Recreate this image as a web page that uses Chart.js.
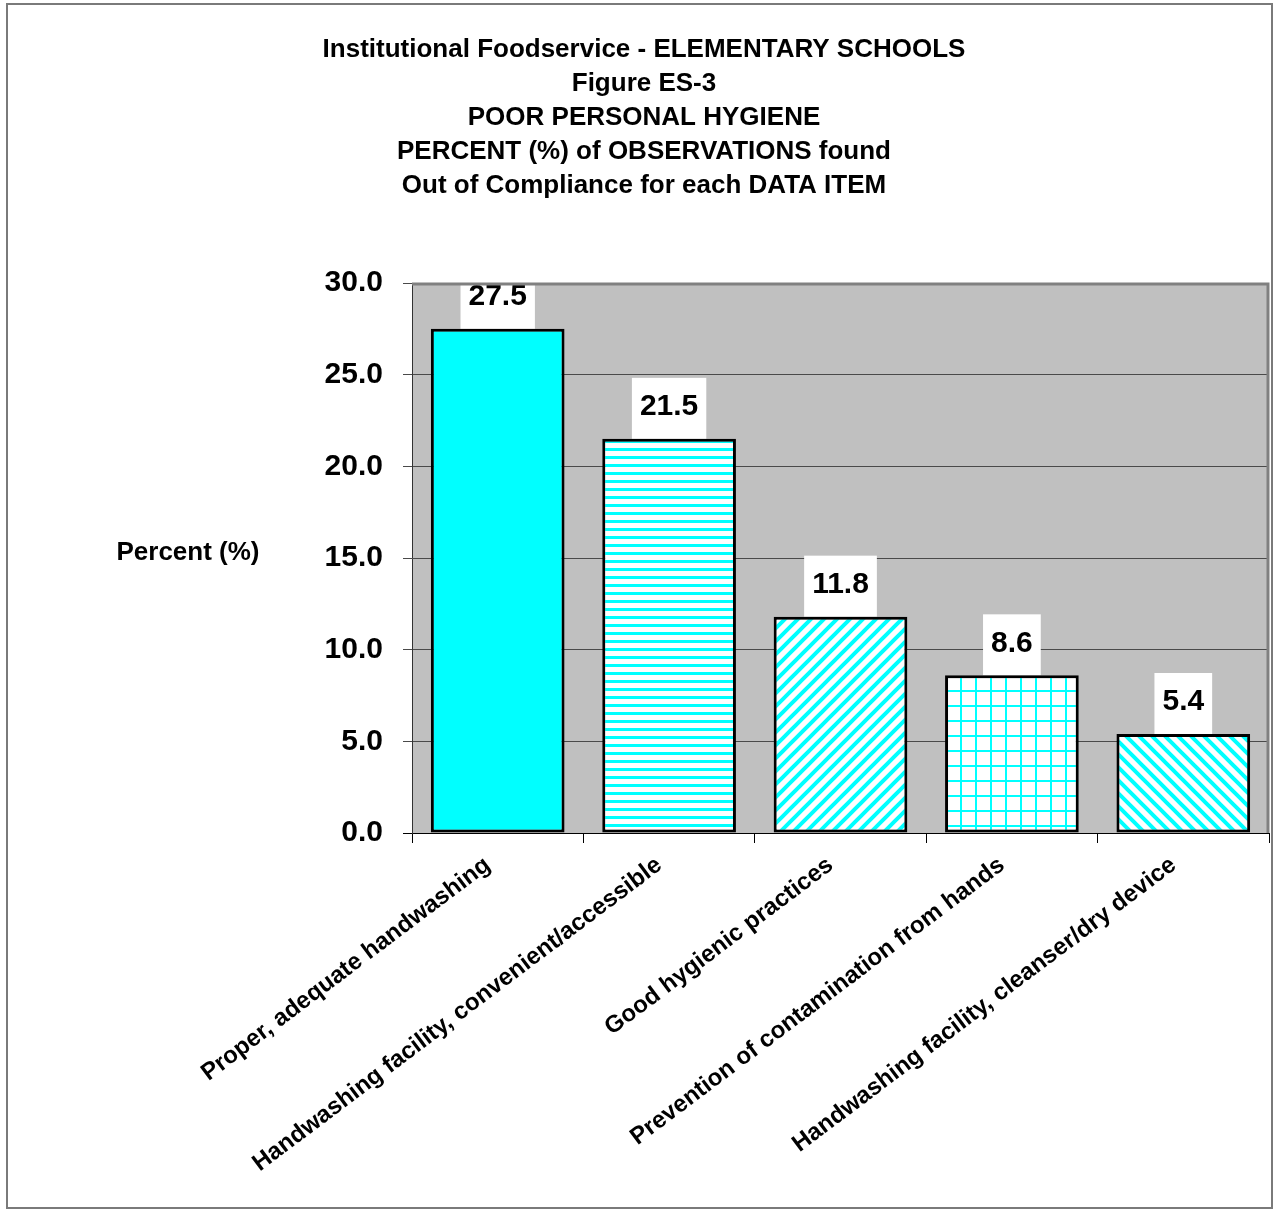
<!DOCTYPE html>
<html>
<head>
<meta charset="utf-8">
<title>Poor Personal Hygiene - Elementary Schools</title>
<script src="https://cdn.jsdelivr.net/npm/chart.js@4/dist/chart.umd.min.js"></script>
<style>
  html, body { margin: 0; padding: 0; background: #ffffff; }
  canvas { display: block; }
</style>
</head>
<body>
<canvas id="chart" width="1275" height="1210"></canvas>
<script>
// Data items and percent of observations out of compliance
const categories = [
  'Proper, adequate handwashing',
  'Handwashing facility, convenient/accessible',
  'Good hygienic practices',
  'Prevention of contamination from hands',
  'Handwashing facility, cleanser/dry device'
];
const percents = [27.5, 21.5, 11.8, 8.6, 5.4];
const yTicks = [0, 5, 10, 15, 20, 25, 30];

const titleLines = [
  'Institutional Foodservice - ELEMENTARY SCHOOLS',
  'Figure ES-3',
  'POOR PERSONAL HYGIENE',
  'PERCENT (%) of OBSERVATIONS found',
  'Out of Compliance for each DATA ITEM'
];
const yAxisLabel = 'Percent (%)';

const CYAN = '#00FFFF';
const FONT = '"Liberation Sans", Arial, Helvetica, sans-serif';

// Hatch fills for the bars
function makePattern(size, draw) {
  const c = document.createElement('canvas');
  c.width = size; c.height = size;
  const g = c.getContext('2d');
  g.fillStyle = '#ffffff';
  g.fillRect(0, 0, size, size);
  g.strokeStyle = CYAN;
  g.fillStyle = CYAN;
  draw(g, size);
  return g.createPattern(c, 'repeat');
}
const ctx = document.getElementById('chart').getContext('2d');
const horizontal = makePattern(8, (g, s) => { g.fillRect(0, 0, s, 3); });
const diagUp = makePattern(13, (g, s) => {
  g.lineWidth = 4;
  g.beginPath();
  g.moveTo(-s, s); g.lineTo(s, -s);
  g.moveTo(0, 2 * s); g.lineTo(2 * s, 0);
  g.moveTo(0, s); g.lineTo(s, 0);
  g.stroke();
});
const gridFill = makePattern(15, (g, s) => {
  g.fillRect(0, 0, 2, s);
  g.fillRect(0, 0, s, 2);
});
const diagDown = makePattern(13, (g, s) => {
  g.lineWidth = 4;
  g.beginPath();
  g.moveTo(0, 0); g.lineTo(s, s);
  g.moveTo(-s, 0); g.lineTo(s, 2 * s);
  g.moveTo(0, -s); g.lineTo(2 * s, s);
  g.stroke();
});
const barFills = [CYAN, horizontal, diagUp, gridFill, diagDown];

// Grey plot background, frame, titles and value boxes
const decorations = {
  id: 'decorations',
  beforeDraw(chart) {
    const c = chart.ctx, a = chart.chartArea;
    c.save();
    c.fillStyle = '#ffffff';
    c.fillRect(0, 0, chart.width, chart.height);
    c.fillStyle = '#C0C0C0';
    c.fillRect(a.left, a.top, a.right - a.left, a.bottom - a.top);
    c.restore();
  },
  beforeDatasetsDraw(chart) {
    const c = chart.ctx, a = chart.chartArea;
    c.save();
    c.beginPath();
    c.rect(a.left, a.top, a.right - a.left, a.bottom - a.top);
    c.clip();
    c.font = 'bold 30px ' + FONT;
    c.fillStyle = '#ffffff';
    chart.getDatasetMeta(0).data.forEach((el, i) => {
      const w = c.measureText(percents[i].toFixed(1)).width + 16;
      c.fillRect(el.x - w / 2, el.y - 61, w, 61);
    });
    c.restore();
  },
  afterDatasetsDraw(chart) {
    const c = chart.ctx;
    c.save();
    c.font = 'bold 30px ' + FONT;
    c.fillStyle = '#000000';
    c.textAlign = 'center';
    c.textBaseline = 'middle';
    chart.getDatasetMeta(0).data.forEach((el, i) => {
      c.fillText(percents[i].toFixed(1), el.x, el.y - 32);
    });
    c.restore();
  },
  afterDraw(chart) {
    const c = chart.ctx, a = chart.chartArea;
    c.save();
    // plot frame on top and right
    c.strokeStyle = '#808080';
    c.lineWidth = 3;
    c.beginPath();
    c.moveTo(a.left, a.top + 1);
    c.lineTo(a.right - 1, a.top + 1);
    c.lineTo(a.right - 1, a.bottom);
    c.stroke();
    // outer frame
    c.lineWidth = 2;
    c.strokeStyle = '#7a7a7a';
    c.strokeRect(7, 4, 1265, 1204);
    // title block
    c.fillStyle = '#000000';
    c.textAlign = 'center';
    c.textBaseline = 'middle';
    c.font = 'bold 26px ' + FONT;
    titleLines.forEach((t, i) => c.fillText(t, 644, 50 + i * 34));
    // vertical axis caption
    c.fillText(yAxisLabel, 188, 553);
    c.restore();
  }
};

new Chart(ctx, {
  type: 'bar',
  data: {
    labels: categories,
    datasets: [{
      data: percents,
      backgroundColor: barFills,
      borderColor: '#000000',
      borderWidth: 3,
      borderSkipped: false,
      barPercentage: 0.78,
      categoryPercentage: 1.0
    }]
  },
  options: {
    responsive: false,
    animation: false,
    events: [],
    layout: { padding: { left: 0, top: 283, right: 6, bottom: 0 } },
    plugins: {
      legend: { display: false },
      tooltip: { enabled: false },
      title: { display: false }
    },
    scales: {
      x: {
        grid: { display: true, drawOnChartArea: false, offset: true, tickLength: 10, color: '#000000' },
        border: { color: '#000000', width: 1 },
        ticks: {
          minRotation: 37,
          maxRotation: 37,
          autoSkip: false,
          padding: 8,
          labelOffset: -10,
          color: '#000000',
          font: { family: FONT, size: 24, weight: 'bold' }
        },
        afterFit(scale) { scale.height = 377; }
      },
      y: {
        min: 0,
        max: 30,
        afterBuildTicks(scale) { scale.ticks = yTicks.map(v => ({ value: v })); },
        grid: {
          tickLength: 9,
          lineWidth: 1,
          color: (c) => (c.tick && c.tick.value === 0 ? '#000000' : '#4a4a4a')
        },
        border: { color: '#333333', width: 1 },
        ticks: {
          padding: 20,
          color: '#000000',
          font: { family: FONT, size: 30, weight: 'bold' },
          callback: (v) => Number(v).toFixed(1)
        },
        afterFit(scale) { scale.width = 412; }
      }
    }
  },
  plugins: [decorations]
});
</script>
</body>
</html>
